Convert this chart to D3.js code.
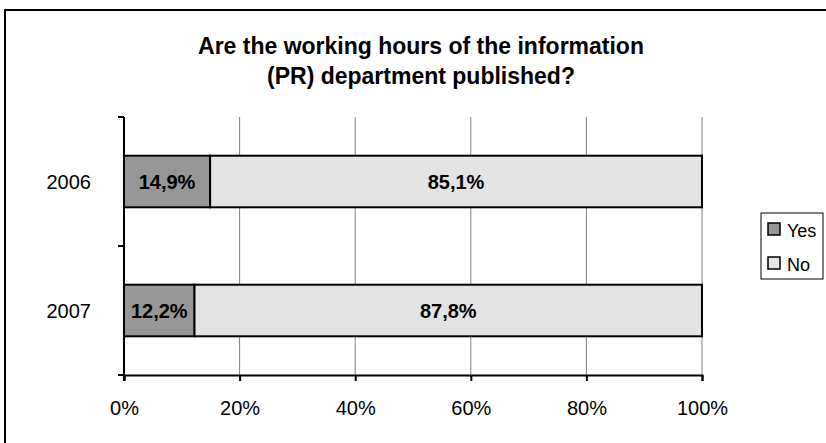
<!DOCTYPE html>
<html>
<head>
<meta charset="UTF-8">
<title>Working hours chart</title>
<script src="https://d3js.org/d3.v7.min.js"></script>
<style>
body { margin: 0; background: #fff; }
text { font-family: "Liberation Sans", Arial, sans-serif; fill: #000; }
</style>
</head>
<body>
<script>
// data
var years = ["2006", "2007"];
var yesValues = [14.9, 12.2];
var noValues = [85.1, 87.8];
var seriesNames = ["Yes", "No"];
var seriesColors = ["#969696", "#e3e3e3"];
var xTicks = [0, 20, 40, 60, 80, 100];
var titleLines = ["Are the working hours of the information", "(PR) department published?"];

var W = 826, H = 443;
var plot = {left: 124, right: 702, top: 117, bottom: 375};

var svg = d3.select("body").append("svg")
  .attr("width", W).attr("height", H);

// outer frame
svg.append("rect")
  .attr("x", 5).attr("y", 10)
  .attr("width", W + 10).attr("height", H + 10)
  .attr("fill", "#fff").attr("stroke", "#000").attr("stroke-width", 2);

// title
svg.append("text")
  .attr("text-anchor", "middle")
  .style("font-size", "23px").style("font-weight", "bold")
  .selectAll("tspan").data(titleLines).enter().append("tspan")
  .attr("x", 421)
  .attr("y", function(d, i) { return 54 + i * 30; })
  .text(function(d) { return d; });

var x = d3.scaleLinear().domain([0, 100]).range([plot.left, plot.right]);
var y = d3.scaleBand().domain(years).range([plot.top, plot.bottom])
  .paddingInner(0.6).paddingOuter(0.3);

// vertical gridlines
svg.append("g").selectAll("line").data(xTicks.slice(1)).enter().append("line")
  .attr("x1", function(d) { return x(d); }).attr("x2", function(d) { return x(d); })
  .attr("y1", plot.top).attr("y2", plot.bottom)
  .attr("stroke", "#808080").attr("stroke-width", 1);

// stacked bars
var rows = years.map(function(yr, i) {
  return [
    {year: yr, s: 0, x0: 0, x1: yesValues[i], v: yesValues[i]},
    {year: yr, s: 1, x0: yesValues[i], x1: yesValues[i] + noValues[i], v: noValues[i]}
  ];
});
var segs = [].concat.apply([], rows);

svg.append("g").selectAll("rect").data(segs).enter().append("rect")
  .attr("x", function(d) { return x(d.x0); })
  .attr("y", function(d) { return y(d.year); })
  .attr("width", function(d) { return x(d.x1) - x(d.x0); })
  .attr("height", y.bandwidth())
  .attr("fill", function(d) { return seriesColors[d.s]; })
  .attr("stroke", "#000").attr("stroke-width", 2);

svg.append("g").selectAll("text").data(segs).enter().append("text")
  .attr("x", function(d) { return (x(d.x0) + x(d.x1)) / 2; })
  .attr("y", function(d) { return y(d.year) + y.bandwidth() / 2 + 7; })
  .attr("text-anchor", "middle")
  .style("font-size", "20px").style("font-weight", "bold")
  .text(function(d) { return d.v.toFixed(1).replace(".", ",") + "%"; });

// x axis
var xAxis = d3.axisBottom(x).tickValues(xTicks)
  .tickFormat(function(d) { return d + "%"; })
  .tickSize(6).tickPadding(20);
var gx = svg.append("g").attr("transform", "translate(0," + plot.bottom + ")").call(xAxis);
gx.select(".domain").attr("stroke", "#000").attr("stroke-width", 2);
gx.selectAll(".tick line").attr("stroke", "#000").attr("stroke-width", 2);
gx.selectAll(".tick text").style("font-size", "20px").style("font-family", "Liberation Sans, Arial, sans-serif");

// y axis: ticks at band boundaries, labels centred in bands
var yAxis = svg.append("g");
yAxis.append("line")
  .attr("x1", plot.left).attr("x2", plot.left)
  .attr("y1", plot.top).attr("y2", plot.bottom + 6)
  .attr("stroke", "#000").attr("stroke-width", 2);
var bounds = [plot.top, plot.top + (plot.bottom - plot.top) / 2, plot.bottom];
yAxis.selectAll(".yt").data(bounds).enter().append("line")
  .attr("x1", plot.left - 6).attr("x2", plot.left)
  .attr("y1", function(d) { return d; }).attr("y2", function(d) { return d; })
  .attr("stroke", "#000").attr("stroke-width", 2);
yAxis.selectAll("text").data(years).enter().append("text")
  .attr("x", 91)
  .attr("y", function(d) { return y(d) + y.bandwidth() / 2 + 7; })
  .attr("text-anchor", "end")
  .style("font-size", "20px")
  .text(function(d) { return d; });

// legend
var lg = svg.append("g");
lg.append("rect").attr("x", 761).attr("y", 213).attr("width", 62).attr("height", 66)
  .attr("fill", "#fff").attr("stroke", "#000").attr("stroke-width", 1);
var items = lg.selectAll("g").data(seriesNames).enter().append("g")
  .attr("transform", function(d, i) { return "translate(768," + (223 + i * 34) + ")"; });
items.append("rect").attr("width", 12).attr("height", 12)
  .attr("fill", function(d, i) { return seriesColors[i]; })
  .attr("stroke", "#000").attr("stroke-width", 1.5);
items.append("text").attr("x", 19).attr("y", 14)
  .style("font-size", "18px")
  .text(function(d) { return d; });
</script>
</body>
</html>
